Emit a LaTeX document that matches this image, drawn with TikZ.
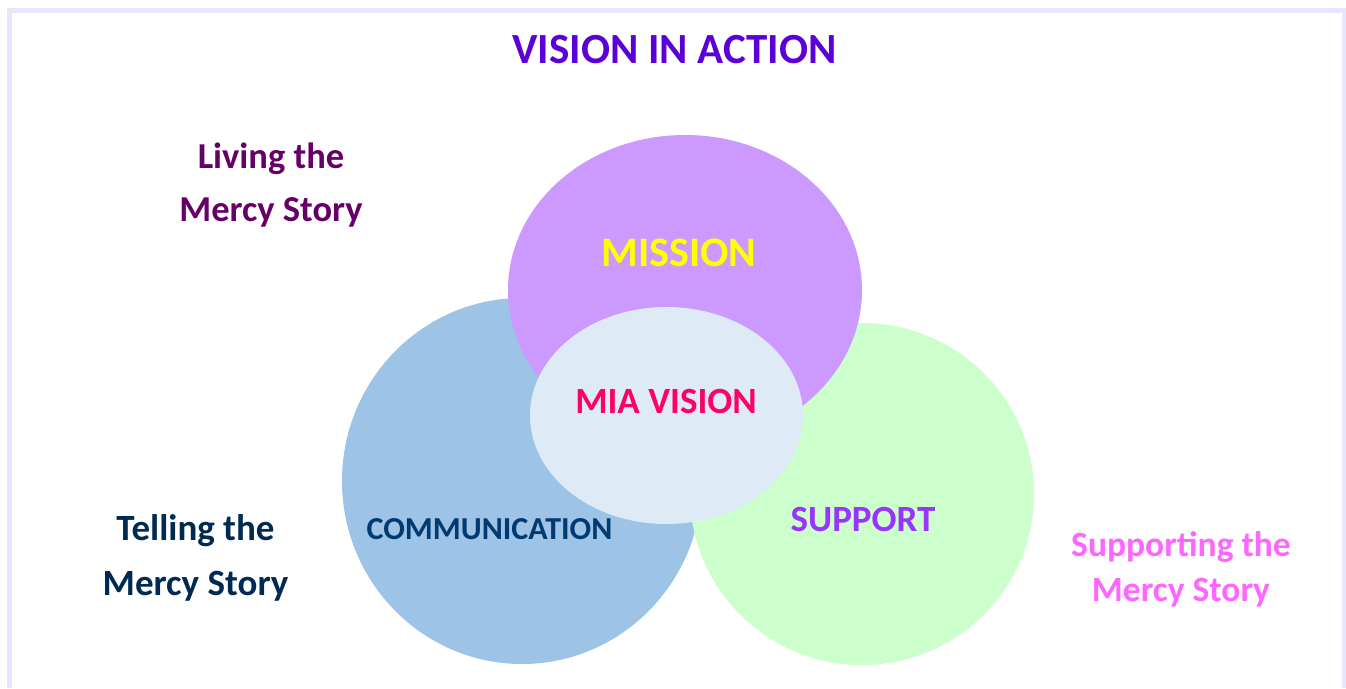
\documentclass[tikz,border=0pt]{standalone}
\usepackage{fontspec}
\setmainfont{Carlito}
\definecolor{frameline}{HTML}{E6E6FF}
\definecolor{titlecol}{HTML}{5B00D6}
\definecolor{livingcol}{HTML}{660066}
\definecolor{tellingcol}{HTML}{002A52}
\definecolor{commcol}{HTML}{003A70}
\definecolor{miacol}{HTML}{FF0066}
\definecolor{missioncol}{HTML}{FFFF00}
\definecolor{supportcol}{HTML}{9933FF}
\definecolor{supportingcol}{HTML}{FF66FF}
\definecolor{commfill}{HTML}{9DC3E6}
\definecolor{supportfill}{HTML}{CCFFCC}
\definecolor{missionfill}{HTML}{CC99FF}
\definecolor{visionfill}{HTML}{DEEBF7}
\begin{document}
\begin{tikzpicture}[x=1pt, y=-1pt,
	word/.style={inner sep=0pt, font=\bfseries\fontsize{#1}{#1}\selectfont},
	story/.style 2 args={inner sep=0pt, align=center, font=\bfseries\fontsize{#1}{#2}\selectfont}]
\useasboundingbox (0,0) rectangle (1346,688);
\draw[frameline, line width=5pt] (9.5,688) -- (9.5,10.5) -- (1344,10.5) -- (1344,688);
% circles
\fill[commfill] (522,481) ellipse (180 and 183);
\fill[supportfill] (862,494) ellipse (172 and 171);
\fill[missionfill] (685,290) ellipse (177 and 155);
\fill[visionfill] (666.5,415.5) ellipse (136.5 and 108.5);
% labels
\node[word=43, titlecol, anchor=base] (title) at (674.5,63) {VISION IN ACTION};
\node[word=42, missioncol, anchor=base] (mission) at (679,266) {MISSION};
\node[word=37, miacol, anchor=base] (mia) at (666,413) {MIA VISION};
\node[word=32, commcol, anchor=base] (comm) at (489.5,539) {COMMUNICATION};
\node[word=37, supportcol, anchor=base] (support) at (863,531) {SUPPORT};
\node[story={36.5}{53}, livingcol] (living) at (271,185) {Living the\\Mercy Story};
\node[story={37}{55}, tellingcol] (telling) at (195.5,558) {Telling the\\Mercy Story};
\node[story={35.5}{45}, supportingcol] (supporting) at (1181,569) {Supporting the\\Mercy Story};
\end{tikzpicture}
\end{document}
